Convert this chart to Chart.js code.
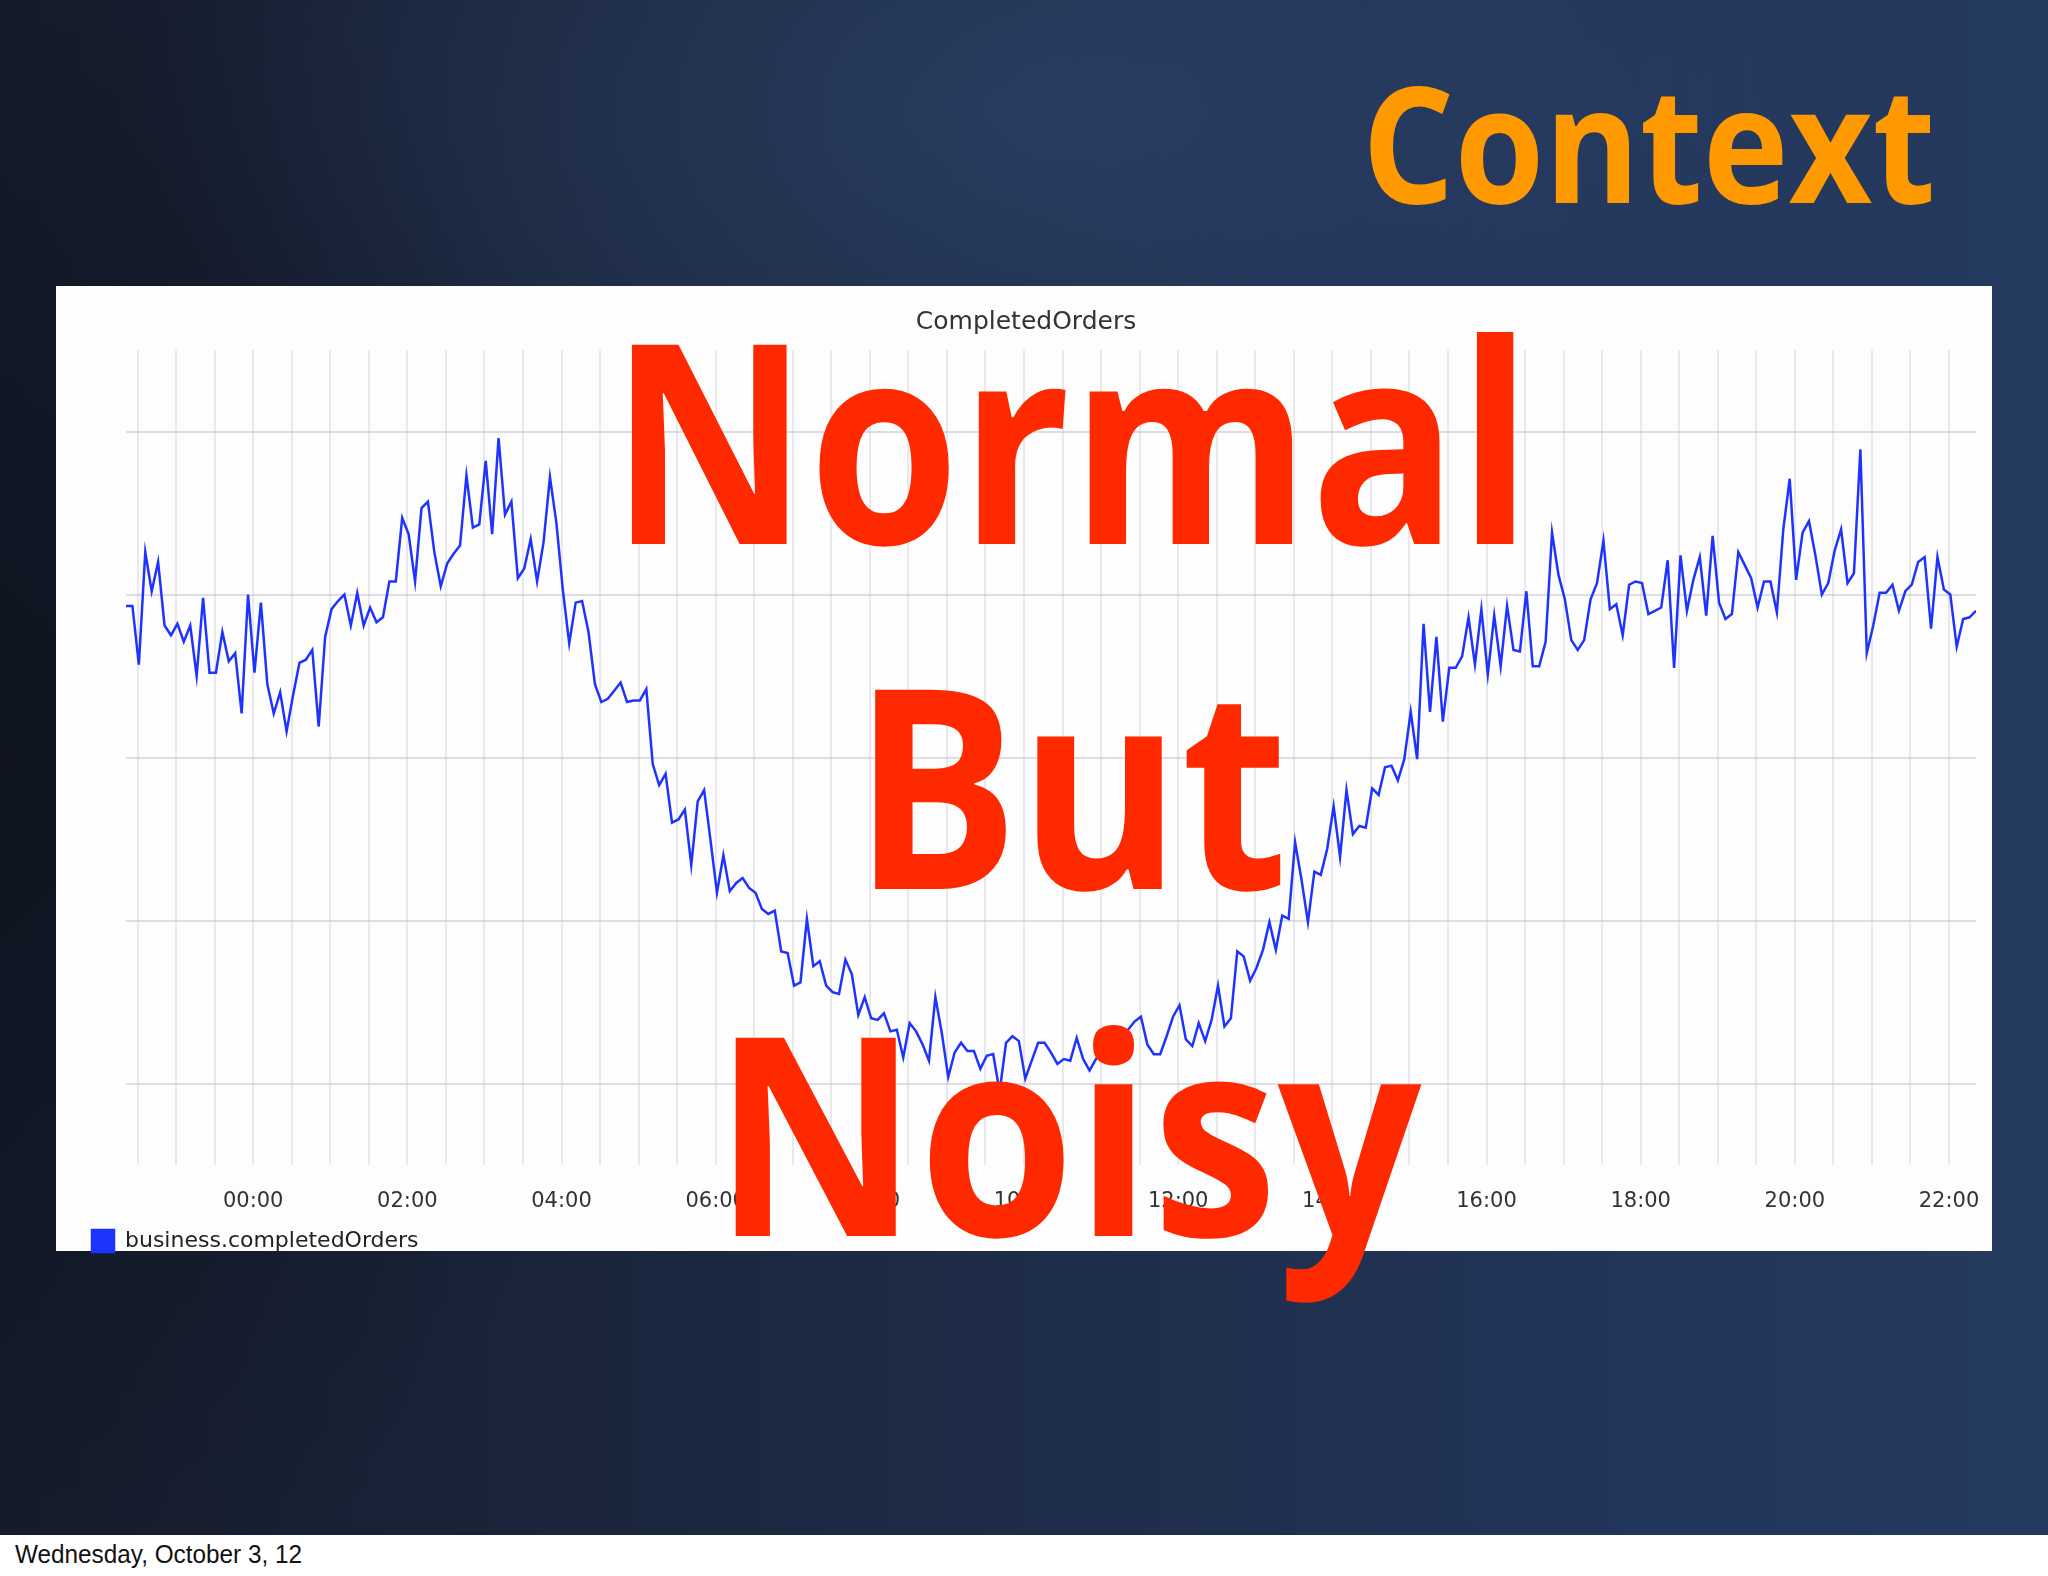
<!DOCTYPE html>
<html>
<head>
<meta charset="utf-8">
<script src="https://cdn.jsdelivr.net/npm/chart.js@4.4.0/dist/chart.umd.min.js"></script>
<style>
  html, body { margin: 0; padding: 0; }
  body { width: 2048px; height: 1576px; position: relative; overflow: hidden; background: #fff; }
  #slide {
    position: absolute; left: 0; top: 0; width: 2048px; height: 1535px;
    background:
      radial-gradient(ellipse 900px 480px at 1050px 110px, rgba(50,74,116,0.55), rgba(50,74,116,0) 100%),
      radial-gradient(ellipse 650px 900px at 0px 760px, rgba(8,12,20,0.55), rgba(8,12,20,0) 100%),
      linear-gradient(90deg, #151c2c 0%, #1c2942 40%, #22355a 80%, #253a5f 100%);
  }
  #footer { position: absolute; left: 0; top: 1535px; width: 2048px; height: 41px; background: #fff; }
  #panel { position: absolute; left: 56px; top: 286px; width: 1936px; height: 965px; background: #fdfdfe; }
  #chart { position: absolute; left: 56px; top: 286px; }
  .txt { position: absolute; left: 0; top: 0; white-space: nowrap; line-height: 1; transform-origin: 0 0; }
</style>
</head>
<body>
<div id="slide"></div>
<div id="footer"></div>
<div id="panel"></div>
<canvas id="chart" width="1936" height="979"></canvas>

<script>
// data, one point every 5 minutes
const chartTitle = "CompletedOrders";
const seriesName = "business.completedOrders";
const startMinute = -99;   // first sample, minutes from 00:00
const stepMinutes = 5;
const orders = [
  393, 393, 357, 426, 402, 420, 381, 375, 382, 371,
  381, 350, 398, 352, 352, 377, 359, 364, 327, 400,
  352, 395, 345, 327, 340, 316, 338, 358, 360, 366,
  319, 374, 391, 396, 400, 381, 401, 381, 392, 383,
  386, 408, 408, 447, 437, 408, 453, 457, 426, 405,
  419, 425, 430, 473, 441, 443, 482, 437, 496, 449,
  457, 410, 416, 434, 408, 432, 472, 444, 403, 370,
  395, 396, 377, 345, 334, 336, 341, 346, 334, 335,
  335, 342, 296, 283, 290, 260, 262, 268, 234, 273,
  280, 249, 217, 240, 218, 223, 226, 220, 217, 207,
  204, 206, 181, 180, 160, 162, 201, 172, 175, 160,
  156, 155, 176, 167, 142, 153, 140, 139, 143, 132,
  133, 116, 137, 132, 124, 114, 153, 131, 104, 119,
  125, 120, 120, 109, 117, 118, 95, 125, 129, 126,
  103, 114, 125, 125, 119, 112, 115, 114, 128, 115,
  108, 115, 121, 125, 123, 129, 133, 138, 141, 124,
  118, 118, 129, 141, 148, 127, 123, 137, 126, 139,
  160, 135, 140, 181, 178, 163, 171, 182, 199, 182,
  203, 201, 248, 225, 199, 230, 228, 244, 270, 239,
  280, 253, 258, 257, 281, 277, 294, 295, 286, 299,
  328, 299, 382, 328, 374, 322, 355, 355, 362, 386,
  357, 391, 351, 387, 356, 393, 366, 365, 402, 356,
  356, 371, 438, 412, 397, 372, 366, 372, 397, 407,
  433, 391, 394, 375, 406, 408, 407, 388, 390, 392,
  421, 355, 424, 390, 409, 423, 387, 436, 395, 385,
  388, 426, 418, 410, 392, 408, 408, 389, 440, 471,
  409, 438, 445, 424, 400, 407, 427, 440, 407, 413,
  489, 364, 381, 401, 401, 406, 390, 402, 406, 420,
  423, 379, 423, 403, 400, 368, 385, 386, 390
];
const tickLabels = ["00:00", "02:00", "04:00", "06:00", "08:00", "10:00",
                    "12:00", "14:00", "16:00", "18:00", "20:00", "22:00"];
const gridMinutes = [-90, -60, -30, 0, 30, 60, 90, 120, 150, 180, 210, 240, 270, 300, 330,
  360, 390, 420, 450, 480, 510, 540, 570, 600, 630, 660, 690, 720, 750, 780, 810, 840,
  870, 900, 930, 960, 990, 1020, 1050, 1080, 1110, 1140, 1170, 1200, 1230, 1260, 1290, 1320];
const yGrid = [100, 200, 300, 400, 500];

const lineColor = "#1f33ff";
const points = orders.map((v, i) => ({ x: startMinute + i * stepMinutes, y: v }));

new Chart(document.getElementById("chart"), {
  type: "line",
  data: {
    datasets: [{
      label: seriesName,
      data: points,
      borderColor: lineColor,
      backgroundColor: lineColor,
      borderWidth: 2.5,
      pointRadius: 0,
      tension: 0,
      fill: false,
    }],
  },
  options: {
    responsive: false,
    animation: false,
    devicePixelRatio: 1,
    layout: { padding: { left: 20, right: 16, top: 0, bottom: 3 } },
    plugins: {
      title: {
        display: true,
        text: chartTitle,
        color: "#333",
        font: { family: "DejaVu Sans", size: 25, weight: "normal" },
        padding: { top: 21, bottom: 13 },
      },
      legend: {
        position: "bottom",
        align: "start",
        labels: {
          boxWidth: 22, boxHeight: 22, padding: 16, color: "#222",
          font: { family: "DejaVu Sans", size: 22 },
        },
      },
      tooltip: { enabled: false },
    },
    scales: {
      x: {
        type: "linear",
        min: startMinute,
        max: startMinute + (orders.length - 1) * stepMinutes,
        afterBuildTicks: (axis) => { axis.ticks = gridMinutes.map((v) => ({ value: v })); },
        afterFit: (axis) => {
          axis.height = 49;
          // the plot runs to the panel edges, labels may hang over
          axis.paddingLeft = 0;
          axis.paddingRight = 0;
        },
        grid: { color: "rgba(200,200,212,0.4)", lineWidth: 2, drawTicks: false },
        border: { display: false },
        ticks: {
          autoSkip: false, maxRotation: 0, minRotation: 0, padding: 24, color: "#333",
          font: { family: "DejaVu Sans", size: 21 },
          callback: (v) => (v >= 0 && v % 120 === 0 ? tickLabels[v / 120] : ""),
        },
      },
      y: {
        min: 50,
        max: 550,
        afterBuildTicks: (axis) => { axis.ticks = yGrid.map((v) => ({ value: v })); },
        afterFit: (axis) => { axis.width = 50; },
        grid: { color: "rgba(190,190,200,0.5)", lineWidth: 2, drawTicks: false },
        border: { display: false },
        ticks: { display: false },
      },
    },
  },
});

// slide texts, fitted to the ink box seen in the picture
const mctx = document.createElement("canvas").getContext("2d");
function placeText(text, o) {
  mctx.font = `${o.weight} 100px ${o.family}`;
  const capH = mctx.measureText("H").actualBoundingBoxAscent;
  const size = (o.cap / capH) * 100;
  const font = `${o.weight} ${size}px ${o.family}`;
  mctx.font = font;
  const m = mctx.measureText(text);
  const sx = (o.right - o.left) / (m.actualBoundingBoxLeft + m.actualBoundingBoxRight);
  const el = document.createElement("div");
  el.className = "txt";
  el.textContent = text;
  el.style.font = font;
  el.style.color = o.color;
  document.body.appendChild(el);
  const probe = document.createElement("span");
  probe.style.cssText = "display:inline-block;width:0;height:0;";
  el.appendChild(probe);
  const baseOff = probe.getBoundingClientRect().top - el.getBoundingClientRect().top;
  el.style.left = (o.left + m.actualBoundingBoxLeft * sx) + "px";
  el.style.top = (o.baseline - baseOff) + "px";
  el.style.transform = `scaleX(${sx})`;
}

const bigFont = "'Open Sans', 'DejaVu Sans', sans-serif";
placeText("Context", { family: bigFont, weight: 700, left: 1370, right: 1931, baseline: 203, cap: 116, color: "#ff9900" });
placeText("Normal", { family: bigFont, weight: 700, left: 629, right: 1515, baseline: 544, cap: 201, color: "#ff2900" });
placeText("But", { family: bigFont, weight: 700, left: 872, right: 1281, baseline: 889, cap: 201, color: "#ff2900" });
placeText("Noisy", { family: bigFont, weight: 700, left: 733, right: 1424, baseline: 1236, cap: 200, color: "#ff2900" });
placeText("Wednesday, October 3, 12", { family: "'Liberation Sans', Arial, sans-serif", weight: 400, left: 15, right: 301, baseline: 1563, cap: 17.5, color: "#111" });
</script>
</body>
</html>
